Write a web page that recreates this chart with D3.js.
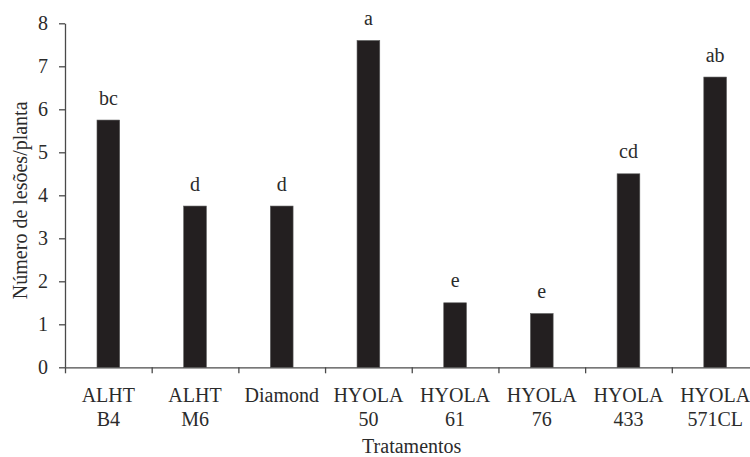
<!DOCTYPE html>
<html>
<head>
<meta charset="utf-8">
<script src="https://cdn.jsdelivr.net/npm/d3@7"></script>
<style>
  html, body { margin: 0; padding: 0; background: #fff; }
  svg { display: block; }
  text { font-family: "Liberation Serif", "Times New Roman", serif; fill: #2b2b2b; }
</style>
</head>
<body>
<svg id="chart" width="750" height="457"></svg>
<script>
const categories = ["ALHT B4", "ALHT M6", "Diamond", "HYOLA 50", "HYOLA 61", "HYOLA 76", "HYOLA 433", "HYOLA 571CL"];
const categoryLines = [["ALHT", "B4"], ["ALHT", "M6"], ["Diamond"], ["HYOLA", "50"], ["HYOLA", "61"], ["HYOLA", "76"], ["HYOLA", "433"], ["HYOLA", "571CL"]];
const values = [5.75, 3.75, 3.75, 7.6, 1.5, 1.25, 4.5, 6.75];
const letters = ["bc", "d", "d", "a", "e", "e", "cd", "ab"];
const yTicks = [0, 1, 2, 3, 4, 5, 6, 7, 8];
const yTitle = "Número de lesões/planta";
const xTitle = "Tratamentos";

const svg = d3.select("#chart");
const plotL = 65, plotR = 758.5, plotT = 23.3, plotB = 367.3;
const axisColor = "#4a4a4a";

const x = d3.scaleBand().domain(categories).range([plotL, plotR]).padding(0);
const y = d3.scaleLinear().domain([0, 8]).range([plotB, plotT]);
const barW = x.bandwidth() * 0.262;

// bars
svg.append("g").selectAll("rect").data(values).join("rect")
  .attr("x", (d, i) => x(categories[i]) + x.bandwidth() / 2 - barW / 2)
  .attr("y", d => y(d))
  .attr("width", barW)
  .attr("height", d => y(0) - y(d))
  .attr("fill", "#231f20")
  .attr("stroke", "#5a5a5a")
  .attr("stroke-width", 0.6);

// letters
svg.append("g").selectAll("text").data(values).join("text")
  .attr("x", (d, i) => x(categories[i]) + x.bandwidth() / 2)
  .attr("y", d => y(d) - 15.5)
  .attr("text-anchor", "middle")
  .attr("font-size", 20)
  .text((d, i) => letters[i]);

// y axis
const yAxis = svg.append("g")
  .attr("transform", `translate(${plotL},0)`)
  .call(d3.axisLeft(y).tickValues(yTicks).tickFormat(d3.format("d")).tickSize(6).tickSizeOuter(0).tickPadding(11));
yAxis.selectAll("path, line").attr("stroke", axisColor).attr("stroke-width", 1.3);
yAxis.selectAll("text").attr("font-size", 20).attr("font-family", "Liberation Serif, serif").attr("fill", "#2b2b2b");

// x axis line and boundary ticks
const xAxisScale = d3.scaleLinear().domain([0, categories.length]).range([plotL, plotR]);
const xAxis = svg.append("g")
  .attr("transform", `translate(0,${plotB})`)
  .call(d3.axisBottom(xAxisScale).tickValues(d3.range(categories.length + 1)).tickFormat("").tickSize(6).tickSizeOuter(0));
xAxis.selectAll("path, line").attr("stroke", axisColor).attr("stroke-width", 1.3);

// x category labels
const xl = svg.append("g").selectAll("text").data(categoryLines).join("text")
  .attr("x", (d, i) => x(categories[i]) + x.bandwidth() / 2)
  .attr("y", 401.5)
  .attr("text-anchor", "middle")
  .attr("font-size", 20);
xl.selectAll("tspan").data(d => d).join("tspan")
  .attr("x", function() { return d3.select(this.parentNode).attr("x"); })
  .attr("dy", (d, i) => i === 0 ? 0 : 24.5)
  .text(d => d);

// titles
svg.append("text")
  .attr("x", (plotL + plotR) / 2)
  .attr("y", 453)
  .attr("text-anchor", "middle")
  .attr("font-size", 20)
  .text(xTitle);

svg.append("text")
  .attr("transform", `translate(27,${(plotT + plotB) / 2 + 5}) rotate(-90)`)
  .attr("text-anchor", "middle")
  .attr("font-size", 20)
  .text(yTitle);
</script>
</body>
</html>
